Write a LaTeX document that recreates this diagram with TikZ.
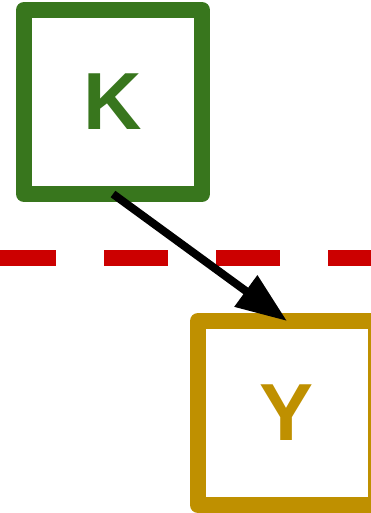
\documentclass[tikz,border=0pt]{standalone}
\usepackage{fontspec}
\setmainfont{Liberation Sans}
\usetikzlibrary{arrows.meta}
\definecolor{kgreen}{HTML}{38761D}
\definecolor{ygold}{HTML}{BF9000}
\definecolor{dred}{HTML}{CC0000}
\tikzset{
  varbox/.style={draw=#1, text=#1, line width=16pt, line join=round,
    minimum width=178pt, minimum height=184pt, inner sep=0pt, outer sep=0pt,
    font=\fontsize{81}{81}\selectfont\bfseries},
  cutline/.style={draw=dred, line width=16pt, dash pattern=on 64pt off 48pt, dash phase=8pt},
  edgearrow/.style={draw=black, line width=8pt, -{Triangle[length=51pt,width=37pt]}}
}
\begin{document}
\begin{tikzpicture}[x=1pt,y=-1pt]
\useasboundingbox (0,0) rectangle (371,513);
\clip (0,0) rectangle (371,513);
\coordinate (cl) at (0,258);
\coordinate (cr) at (371,258);
\draw[cutline] (cl) -- (cr);
\node[varbox=kgreen] (K) at (113,102) {K};
\node[varbox=ygold] (Y) at (287,413) {Y};
\draw[edgearrow] (K.south) -- (Y.north);
\end{tikzpicture}
\end{document}
